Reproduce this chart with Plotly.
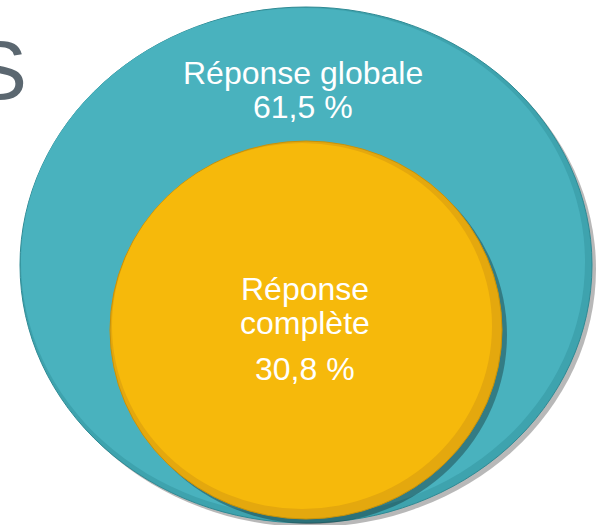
import plotly.graph_objects as go

# ---- data ----
categories = ["Réponse globale", "Réponse complète"]
values = [61.5, 30.8]
value_labels = ["61,5 %", "30,8 %"]
title_fragment = "S"

# ---- styles / layout constants ----
W, H = 598, 525
teal = "#49b2be"
teal_dark = "#3ea3ae"
yellow = "#f6b90b"
yellow_dark = "#e4a80e"

# ellipse geometry (pixel coordinates, y downward); area proportional to value
outer = dict(cx=306, cy=265, rx=286, ry=258)
inner = dict(cx=306, cy=330, rx=196, ry=189)

fig = go.Figure()

def ell(g, dx=0, dy=0, shrink=0):
    return dict(x0=g["cx"] - g["rx"] + dx + shrink, x1=g["cx"] + g["rx"] + dx - shrink,
                y0=g["cy"] - g["ry"] + dy + shrink, y1=g["cy"] + g["ry"] + dy - shrink)

shapes = []
# outer shadow
shapes.append(dict(type="circle", xref="x", yref="y", **ell(outer, 4, 4),
                   fillcolor="rgba(0,0,0,0.28)", line=dict(width=0), layer="below"))
shapes.append(dict(type="circle", xref="x", yref="y", **ell(outer),
                   fillcolor=teal_dark, line=dict(color="#2f8a94", width=1), layer="below"))
shapes.append(dict(type="circle", xref="x", yref="y", **ell(outer, -3, -3, 4),
                   fillcolor=teal, line=dict(width=0), layer="below"))
# inner shadow
shapes.append(dict(type="circle", xref="x", yref="y", **ell(inner, 5, 5),
                   fillcolor="rgba(0,0,0,0.30)", line=dict(width=0), layer="below"))
shapes.append(dict(type="circle", xref="x", yref="y", **ell(inner),
                   fillcolor=yellow_dark, line=dict(color="#c99208", width=1), layer="below"))
shapes.append(dict(type="circle", xref="x", yref="y", **ell(inner, -4, -4, 6),
                   fillcolor=yellow, line=dict(width=0), layer="below"))

fig.update_layout(shapes=shapes)

font_fam = "Liberation Sans, Arial, sans-serif"
fs = 32

fig.add_annotation(x=303, y=73, xref="x", yref="y", text=categories[0],
                   showarrow=False, font=dict(color="white", size=fs, family=font_fam))
fig.add_annotation(x=303, y=107, xref="x", yref="y", text=value_labels[0],
                   showarrow=False, font=dict(color="white", size=fs, family=font_fam))

fig.add_annotation(x=305, y=289, xref="x", yref="y", text=categories[1].split(" ")[0],
                   showarrow=False, font=dict(color="white", size=fs, family=font_fam))
fig.add_annotation(x=305, y=323, xref="x", yref="y", text=categories[1].split(" ")[1],
                   showarrow=False, font=dict(color="white", size=fs, family=font_fam))
fig.add_annotation(x=305, y=369, xref="x", yref="y", text=value_labels[1],
                   showarrow=False, font=dict(color="white", size=fs, family=font_fam))

fig.add_annotation(x=29, y=70, xref="x", yref="y", text=title_fragment, xanchor="right",
                   showarrow=False, font=dict(color="#5b6770", size=84, family=font_fam))

fig.update_layout(
    width=W, height=H, margin=dict(l=0, r=0, t=0, b=0),
    paper_bgcolor="white", plot_bgcolor="white",
    xaxis=dict(range=[0, W], visible=False, fixedrange=True),
    yaxis=dict(range=[H, 0], visible=False, fixedrange=True),
    showlegend=False,
)

fig.write_html("out.html")
